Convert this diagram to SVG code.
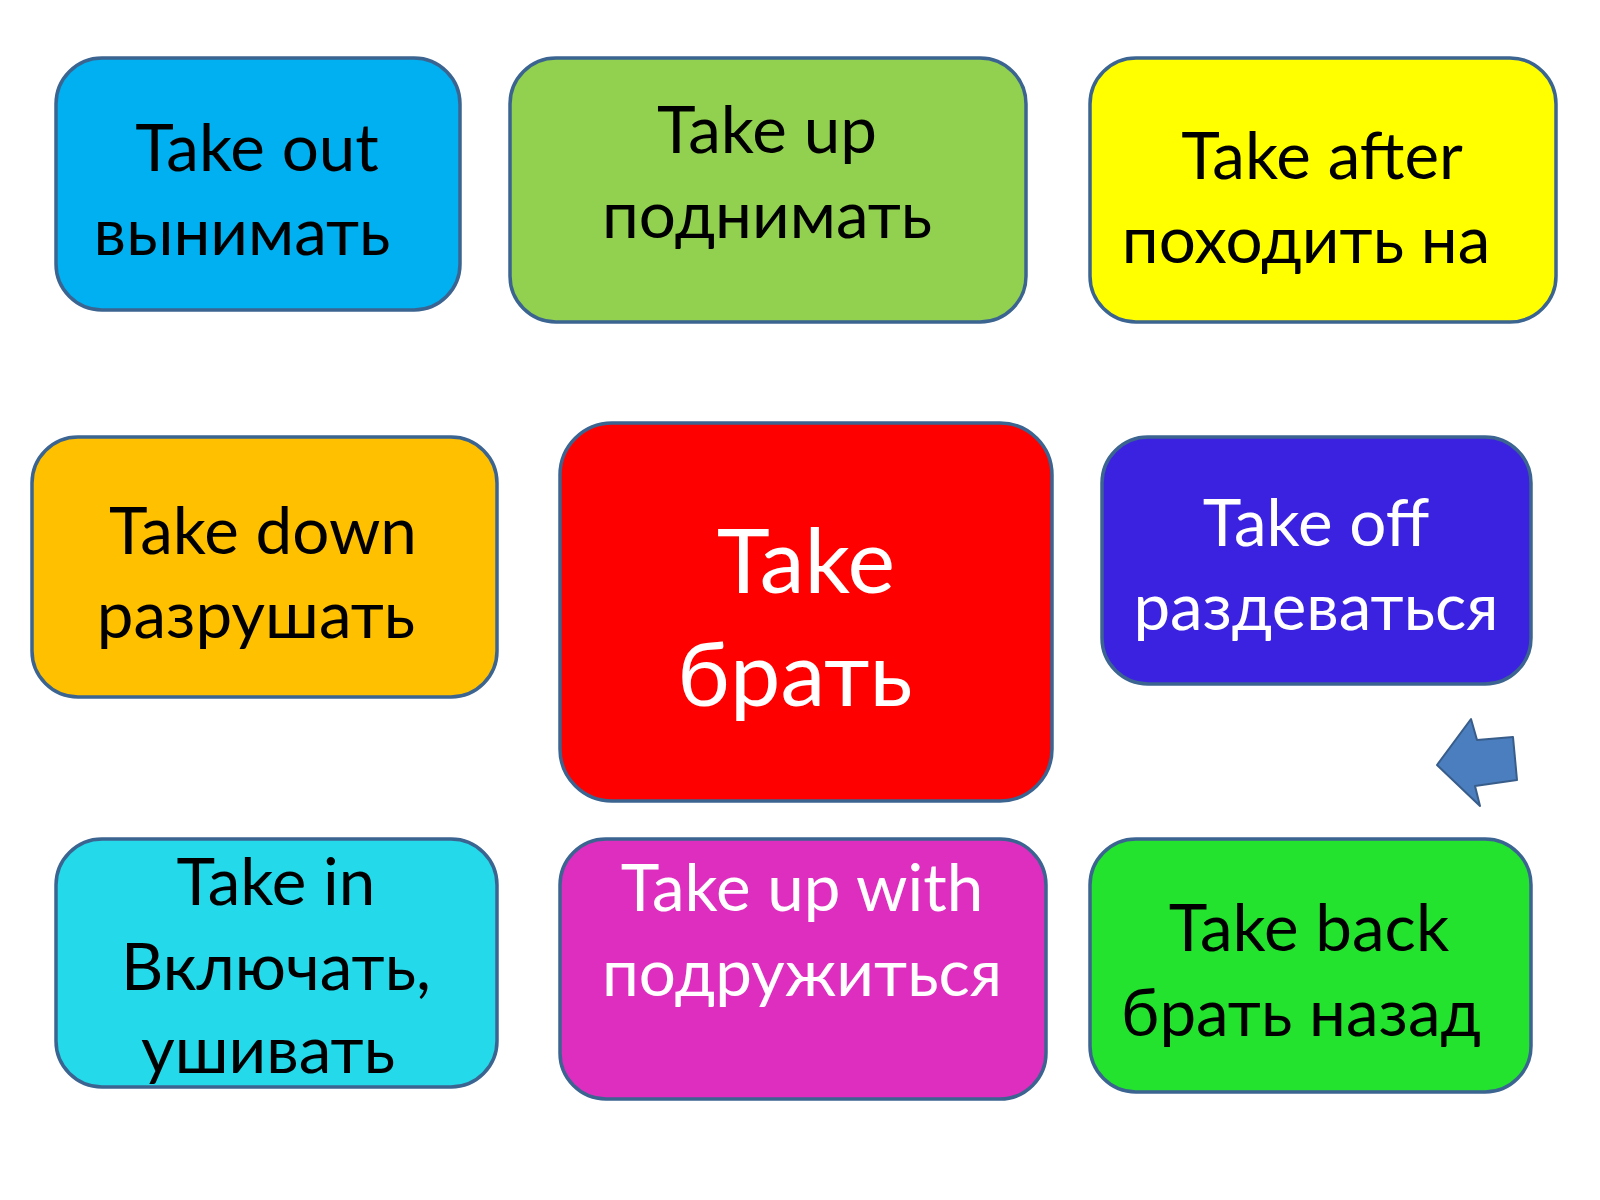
<svg xmlns="http://www.w3.org/2000/svg" width="1600" height="1200" viewBox="0 0 1600 1200">
<style>
.box{stroke:#3B6491;stroke-width:3.5}
text{font-family:"Lato","Liberation Sans",sans-serif;font-size:65.5px;text-anchor:middle;fill:#000}
.w{fill:#fff}
.big{font-size:90px}
</style>
<rect width="1600" height="1200" fill="#fff"/>
<g id="take-out">
<rect class="box" x="56" y="58" width="404" height="252" rx="46" fill="#00B0F0"/>
<text x="257" y="171">Take out</text>
<text x="242" y="255">вынимать</text>
</g>
<g id="take-up">
<rect class="box" x="510" y="58" width="516" height="264" rx="46" fill="#92D050"/>
<text x="767" y="153">Take up</text>
<text x="767" y="238">поднимать</text>
</g>
<g id="take-after">
<rect class="box" x="1090" y="58" width="466" height="264" rx="46" fill="#FFFF00"/>
<text x="1322" y="179">Take after</text>
<text x="1306" y="263">походить на</text>
</g>
<g id="take-down">
<rect class="box" x="32" y="437" width="465" height="260" rx="46" fill="#FFC000"/>
<text x="263" y="554">Take down</text>
<text x="256" y="638">разрушать</text>
</g>
<g id="take">
<rect class="box" x="560" y="423" width="492" height="378" rx="52" fill="#FF0000"/>
<text class="w big" x="806" y="593">Take</text>
<text class="w big" x="795" y="706">брать</text>
</g>
<g id="take-off">
<rect class="box" x="1102" y="437" width="429" height="247" rx="46" fill="#3A22E0"/>
<text class="w" x="1316" y="546">Take off</text>
<text class="w" x="1316" y="630">раздеваться</text>
</g>
<g id="arrow">
<polygon points="1437,765 1471,719 1477,740 1513,737 1517,780 1475,786 1480,806" fill="#4A7EBF" stroke="#385D8A" stroke-width="2" stroke-linejoin="round"/>
</g>
<g id="take-in">
<rect class="box" x="56" y="839" width="441" height="248" rx="46" fill="#24D9EA"/>
<text x="276" y="905">Take in</text>
<text x="276" y="990">Включать,</text>
<text x="268" y="1073">ушивать</text>
</g>
<g id="take-up-with">
<rect class="box" x="560" y="839" width="486" height="260" rx="46" fill="#DE2EC0"/>
<text class="w" x="802" y="911">Take up with</text>
<text class="w" x="802" y="996">подружиться</text>
</g>
<g id="take-back">
<rect class="box" x="1090" y="839" width="441" height="253" rx="46" fill="#24E32E"/>
<text x="1309" y="951">Take back</text>
<text x="1301" y="1036">брать назад</text>
</g>
<g id="connectors"></g>
</svg>
